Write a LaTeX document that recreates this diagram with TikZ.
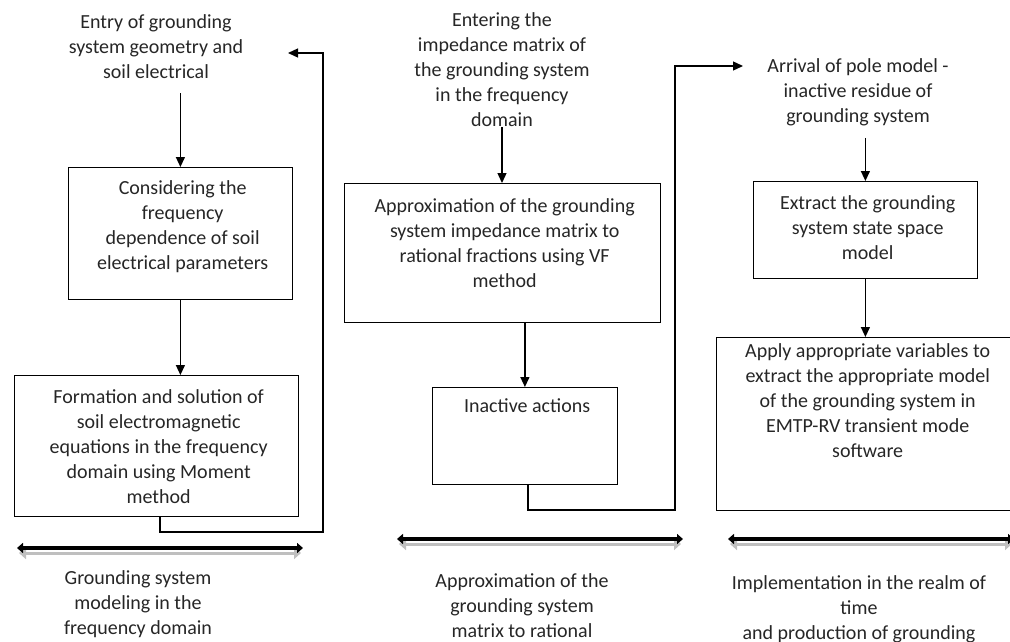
\documentclass[tikz,border=0pt]{standalone}
\usepackage{fontspec}
\setmainfont{Carlito}
\usetikzlibrary{arrows.meta}

\begin{document}
\begin{tikzpicture}[x=1pt,y=-1pt,
  every node/.style={font=\fontsize{20}{25}\selectfont, text=black!85},
  flowbox/.style={draw, line width=1.3pt, inner sep=0pt, anchor=north west},
  plain/.style={align=center, inner sep=0pt},
  flowarrow/.style={line width=1.3pt, -{Triangle[length=10pt,width=9pt]}},
  timeline/.style={line width=4pt, {Triangle[length=6pt,width=10pt]}-{Triangle[length=6pt,width=10pt]}},
  timeshade/.style={line width=3pt, black!25, {Triangle[length=7pt,width=12pt]}-{Triangle[length=7pt,width=12pt]}}
]
   \newcommand{\topbox}[4][27pt]{
        \parbox[c][#3][t]{#2}{\centering\rule{0pt}{#1}#4}
    }
\useasboundingbox (0,0) rectangle (1010,641);

% first column
\node[plain] (entry) at (156,47) {Entry of grounding\\system geometry and\\soil electrical};
\node[flowbox] (consider) at (68,167) {\topbox{219pt}{132pt}{Considering the\\frequency\\dependence of soil\\electrical parameters}};
\node[flowbox] (formation) at (14,375) {\topbox[28pt]{279pt}{141pt}{Formation and solution of\\soil electromagnetic\\equations in the frequency\\domain using Moment\\method}};

% second column
\node[plain] (entering) at (502,70) {Entering the\\impedance matrix of\\the grounding system\\in the frequency\\domain};
\node[flowbox] (approx) at (344,183) {\topbox[29pt]{311pt}{139pt}{Approximation of the grounding\\system impedance matrix to\\rational fractions using VF\\method}};
\node[flowbox] (inactive) at (432,387) {\topbox[25pt]{180pt}{97pt}{Inactive actions}};

% third column
\node[plain] (arrival) at (858,92) {Arrival of pole model -\\inactive residue of\\grounding system};
\node[flowbox] (extract) at (753,181) {\topbox[28pt]{219pt}{97pt}{Extract the grounding\\system state space\\model}};
\node[flowbox] (apply) at (716,337) {\topbox[20pt]{293pt}{173pt}{Apply appropriate variables to\\extract the appropriate model\\of the grounding system in\\EMTP-RV transient mode\\software}};

% labels under the time lines
\node[plain] (labelFreq) at (138,604) {Grounding system\\modeling in the\\frequency domain};
\node[plain] (labelApprox) at (522,606) {Approximation of the\\grounding system\\matrix to rational};
\node[plain] (labelTime) at (859,609) {Implementation in the realm of\\time\\and production of grounding};

% loop ends
\coordinate (backL) at (288,53);
\coordinate (backM) at (743,66);
\coordinate (outL) at (160,0);
\coordinate (outM) at (528,0);

\draw[flowarrow, shorten <=14pt] (consider.north |- entry.south) -- (consider.north);
\draw[flowarrow] (consider.south) -- (consider.south |- formation.north);
\draw[flowarrow] (outL |- formation.south) |- (323,532) -- (323,53) -- (backL);

\draw[flowarrow] (entering.south) -- (entering.south |- approx.north);
\draw[flowarrow] (inactive.north |- approx.south) -- (inactive.north);
\draw[flowarrow] (outM |- inactive.south) |- (675,510) -- (675,66) -- (backM);

\draw[flowarrow, shorten <=12pt] (extract.north |- arrival.south) -- (extract.north);
\draw[flowarrow] (extract.south) -- (extract.south |- apply.north);

% time lines
\draw[timeshade] (19,553) -- (301,553);
\draw[timeline] (17,548) -- (303,548);
\draw[timeshade] (399,544) -- (681,544);
\draw[timeline] (397,539) -- (683,539);
\draw[timeshade] (730,544) -- (1012,544);
\draw[timeline] (728,539) -- (1014,539);
\end{tikzpicture}
\end{document}
